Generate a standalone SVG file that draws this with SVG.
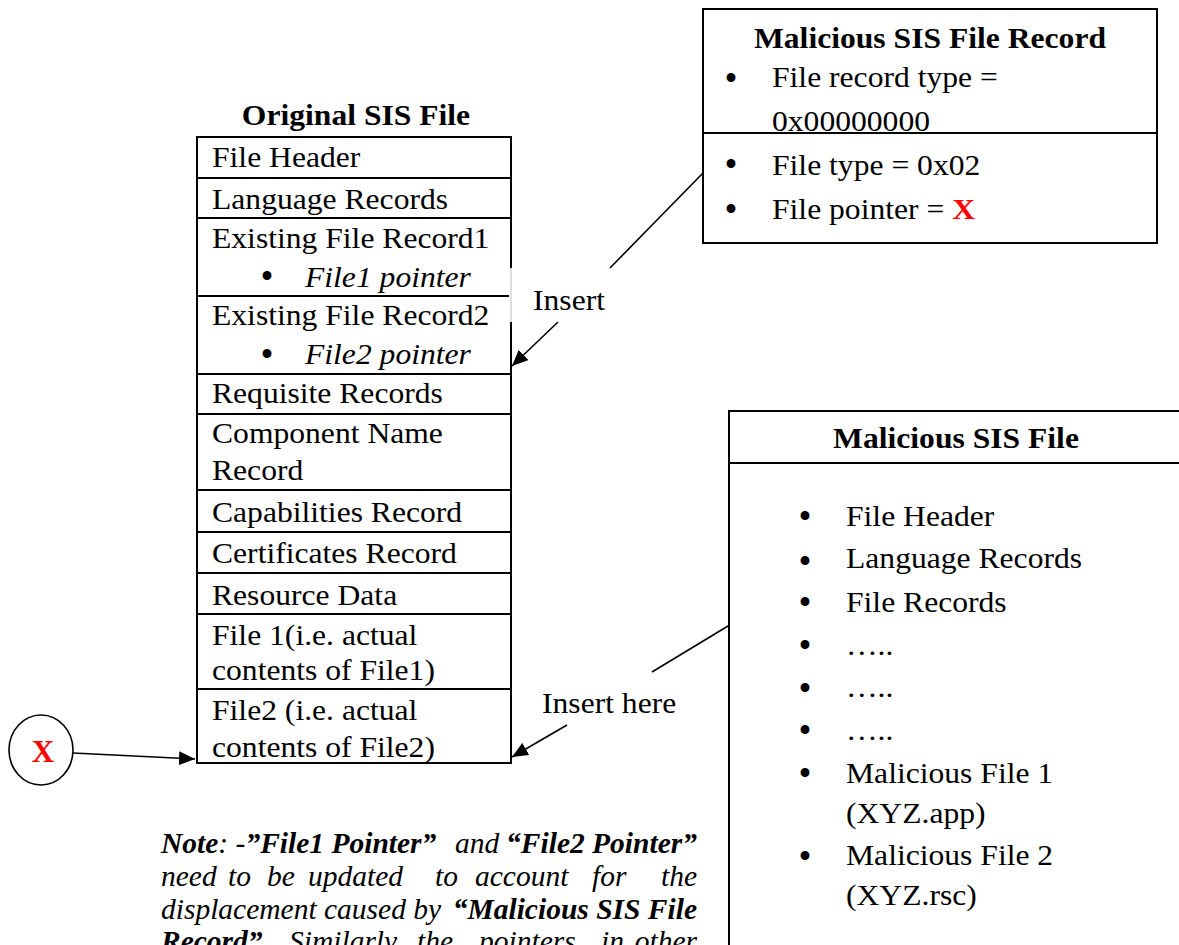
<svg xmlns="http://www.w3.org/2000/svg" width="1179" height="945" viewBox="0 0 1179 945">
<defs>
<style>
.t{font-family:"Liberation Serif","Times New Roman",serif;font-size:29px;fill:#000}
.b{font-weight:bold}
.i{font-style:italic}
.red{fill:#ff0000;font-weight:bold}
.bu{font-family:"Liberation Serif","Times New Roman",serif;font-size:37px;fill:#000;text-anchor:middle}
.box{fill:none;stroke:#000;stroke-width:2}
.sep{stroke:#000;stroke-width:2}
.con{stroke:#000;stroke-width:1.6;fill:none}
.note{font-family:"Liberation Serif","Times New Roman",serif;font-size:29.5px;font-style:italic;fill:#000}
</style>
<marker id="ah" markerUnits="userSpaceOnUse" markerWidth="18" markerHeight="14" refX="16" refY="7" orient="auto">
<path d="M0,0 L16,7 L0,14 Z" fill="#000"/>
</marker>
</defs>
<rect width="1179" height="945" fill="#fff"/>

<g id="original-sis-file">
<text class="t b" text-anchor="middle" transform="translate(356 125) scale(1.09 1)">Original SIS File</text>
<rect class="box" x="197" y="137" width="314" height="626"/>
<line class="sep" x1="197" y1="178" x2="511" y2="178"/>
<line class="sep" x1="197" y1="218" x2="511" y2="218"/>
<line class="sep" x1="197" y1="296" x2="511" y2="296"/>
<line class="sep" x1="197" y1="374" x2="511" y2="374"/>
<line class="sep" x1="197" y1="414" x2="511" y2="414"/>
<line class="sep" x1="197" y1="490" x2="511" y2="490"/>
<line class="sep" x1="197" y1="532" x2="511" y2="532"/>
<line class="sep" x1="197" y1="573" x2="511" y2="573"/>
<line class="sep" x1="197" y1="614" x2="511" y2="614"/>
<line class="sep" x1="197" y1="689" x2="511" y2="689"/>
<rect x="509" y="268" width="5" height="54" fill="#fff"/>
<line x1="511" y1="268" x2="511" y2="322" stroke="#bbb" stroke-width="1"/>
<text class="t" transform="translate(212 167) scale(1.09 1)">File Header</text>
<text class="t" transform="translate(212 209) scale(1.09 1)">Language Records</text>
<text class="t" transform="translate(212 248) scale(1.09 1)">Existing File Record1</text>
<text class="bu" x="267" y="289">•</text>
<text class="t i" transform="translate(305 287) scale(1.09 1)">File1 pointer</text>
<text class="t" transform="translate(212 325) scale(1.09 1)">Existing File Record2</text>
<text class="bu" x="267" y="367">•</text>
<text class="t i" transform="translate(305 364) scale(1.09 1)">File2 pointer</text>
<text class="t" transform="translate(212 403) scale(1.09 1)">Requisite Records</text>
<text class="t" transform="translate(212 443) scale(1.09 1)">Component Name</text>
<text class="t" transform="translate(212 480) scale(1.09 1)">Record</text>
<text class="t" transform="translate(212 522) scale(1.09 1)">Capabilities Record</text>
<text class="t" transform="translate(212 563) scale(1.09 1)">Certificates Record</text>
<text class="t" transform="translate(212 605) scale(1.09 1)">Resource Data</text>
<text class="t" transform="translate(212 645) scale(1.09 1)">File 1(i.e. actual</text>
<text class="t" transform="translate(212 680) scale(1.09 1)">contents of File1)</text>
<text class="t" transform="translate(212 720) scale(1.09 1)">File2 (i.e. actual</text>
<text class="t" transform="translate(212 757) scale(1.09 1)">contents of File2)</text>
</g>

<g id="malicious-sis-file-record">
<rect class="box" x="703" y="9" width="454" height="234"/>
<line class="sep" x1="703" y1="133" x2="1157" y2="133"/>
<text class="t b" text-anchor="middle" transform="translate(930 48) scale(1.09 1)">Malicious SIS File Record</text>
<text class="bu" x="731" y="91">•</text>
<text class="t" transform="translate(772 87) scale(1.09 1)">File record type =</text>
<text class="t" transform="translate(772 131) scale(1.09 1)">0x00000000</text>
<text class="bu" x="731" y="177">•</text>
<text class="t" transform="translate(772 175) scale(1.09 1)">File type = 0x02</text>
<text class="bu" x="731" y="222">•</text>
<text class="t" transform="translate(772 219) scale(1.09 1)">File pointer = <tspan class="red">X</tspan></text>
</g>

<g id="malicious-sis-file">
<line class="sep" x1="729" y1="411" x2="1179" y2="411"/>
<line class="sep" x1="729" y1="463" x2="1179" y2="463"/>
<line class="sep" x1="729" y1="410" x2="729" y2="945"/>
<text class="t b" text-anchor="middle" transform="translate(956 448) scale(1.09 1)">Malicious SIS File</text>
<text class="bu" x="805" y="529">•</text>
<text class="t" transform="translate(846 526) scale(1.09 1)">File Header</text>
<text class="bu" x="805" y="574">•</text>
<text class="t" transform="translate(846 568) scale(1.09 1)">Language Records</text>
<text class="bu" x="805" y="615">•</text>
<text class="t" transform="translate(846 612) scale(1.09 1)">File Records</text>
<text class="bu" x="805" y="658">•</text>
<text class="t" transform="translate(846 655) scale(1.09 1)">…..</text>
<text class="bu" x="805" y="701">•</text>
<text class="t" transform="translate(846 697) scale(1.09 1)">…..</text>
<text class="bu" x="805" y="743">•</text>
<text class="t" transform="translate(846 740) scale(1.09 1)">…..</text>
<text class="bu" x="805" y="786">•</text>
<text class="t" transform="translate(846 783) scale(1.09 1)">Malicious File 1</text>
<text class="t" transform="translate(846 823) scale(1.09 1)">(XYZ.app)</text>
<text class="bu" x="805" y="869">•</text>
<text class="t" transform="translate(846 865) scale(1.09 1)">Malicious File 2</text>
<text class="t" transform="translate(846 905) scale(1.09 1)">(XYZ.rsc)</text>
</g>

<g id="x-pointer">
<ellipse cx="41" cy="750" rx="32" ry="35" fill="#fff" stroke="#000" stroke-width="1.6"/>
<text class="t red" text-anchor="middle" x="43" y="762" style="font-size:31px">X</text>
</g>

<g id="connectors">
<line class="con" x1="703" y1="173" x2="610" y2="268"/>
<line class="con" x1="558" y1="322" x2="512" y2="366" marker-end="url(#ah)"/>
<line class="con" x1="728" y1="626" x2="652" y2="672"/>
<line class="con" x1="567" y1="725" x2="512" y2="757" marker-end="url(#ah)"/>
<line class="con" x1="73" y1="753" x2="195" y2="759" marker-end="url(#ah)"/>
</g>

<g id="labels">
<text class="t" transform="translate(533 310) scale(1.09 1)">Insert</text>
<text class="t" transform="translate(542 713) scale(1.09 1)">Insert here</text>
</g>

<g id="note">
<text class="note" y="853"><tspan x="161" font-weight="bold">Note</tspan>: -<tspan font-weight="bold">”File1 Pointer”</tspan><tspan x="455">and</tspan><tspan x="697" text-anchor="end" font-weight="bold">“File2 Pointer”</tspan></text>
<text class="note" y="886"><tspan x="161">need</tspan><tspan x="228">to</tspan><tspan x="267">be</tspan><tspan x="308">updated</tspan><tspan x="435">to</tspan><tspan x="475">account</tspan><tspan x="592">for</tspan><tspan x="697" text-anchor="end">the</tspan></text>
<text class="note" y="919"><tspan x="161">displacement caused by</tspan><tspan x="697" text-anchor="end" font-weight="bold">“Malicious SIS File</tspan></text>
<text class="note" y="951"><tspan x="161" font-weight="bold">Record”.</tspan><tspan x="289">Similarly</tspan><tspan x="417">the</tspan><tspan x="479">pointers</tspan><tspan x="601">in</tspan><tspan x="697" text-anchor="end">other</tspan></text>
</g>
</svg>
